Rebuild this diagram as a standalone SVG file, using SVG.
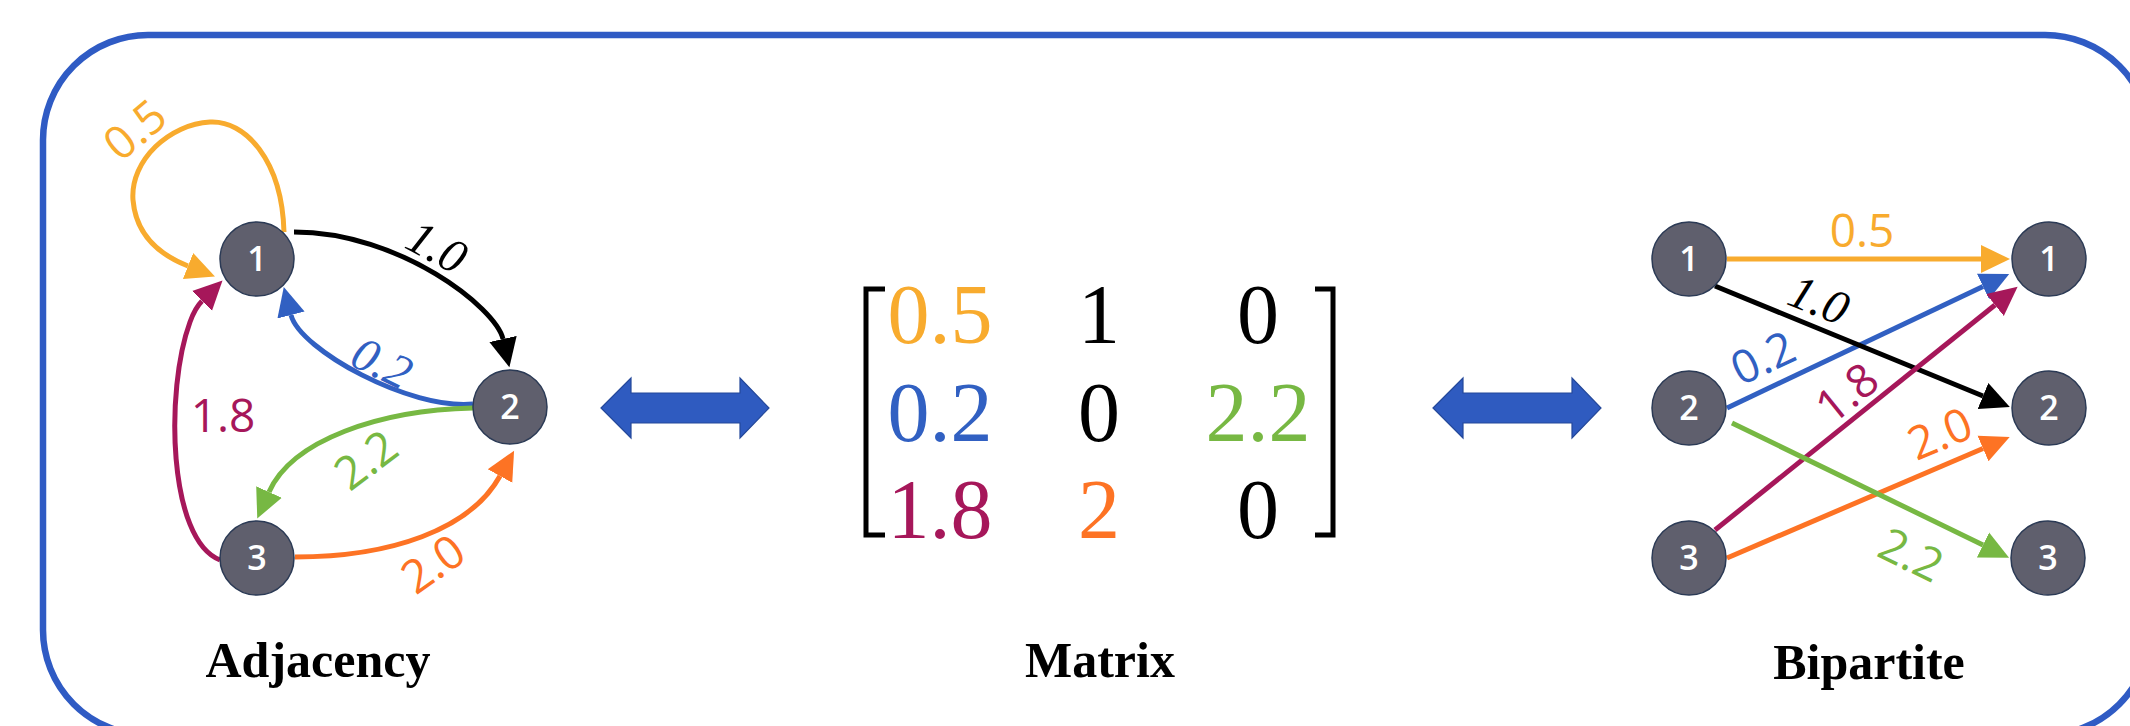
<svg xmlns="http://www.w3.org/2000/svg" width="2130" height="726" viewBox="0 0 2130 726">
<style>
.node circle{fill:#5F5F6D;stroke:#2B3A55;stroke-width:1.5}
.node text{fill:#fff;font-family:"Open Sans","DejaVu Sans",sans-serif;font-size:34px;font-weight:600;text-anchor:middle}
.e{fill:none;stroke-width:5}
.lbl{font-family:"Open Sans","DejaVu Sans",sans-serif;font-size:46px;text-anchor:middle}
.ital{font-family:"Liberation Serif","Times New Roman",serif;font-style:italic;font-size:48px;text-anchor:middle}
.mx{font-family:"Liberation Serif","Times New Roman",serif;font-size:84px;text-anchor:middle}
.title{font-family:"Liberation Serif","Times New Roman",serif;font-weight:bold;font-size:50px;text-anchor:middle;fill:#000}
.dbl{fill:#2F5BC0;stroke:#24489A;stroke-width:1.2}
.y{stroke:#F8AB2E}.k{stroke:#000}.b{stroke:#3160C2}.g{stroke:#77B843}.o{stroke:#FD7324}.c{stroke:#A6175A}
</style>
<defs>
<marker id="mY" markerUnits="userSpaceOnUse" viewBox="0 -15 30 30" markerWidth="30" markerHeight="30" refX="0" refY="0" orient="auto"><path d="M0,-14 L29,0 L0,14 Z" fill="#F8AB2E"/></marker>
<marker id="mK" markerUnits="userSpaceOnUse" viewBox="0 -15 30 30" markerWidth="30" markerHeight="30" refX="0" refY="0" orient="auto"><path d="M0,-14 L29,0 L0,14 Z" fill="#000"/></marker>
<marker id="mB" markerUnits="userSpaceOnUse" viewBox="0 -15 30 30" markerWidth="30" markerHeight="30" refX="0" refY="0" orient="auto"><path d="M0,-14 L29,0 L0,14 Z" fill="#3160C2"/></marker>
<marker id="mG" markerUnits="userSpaceOnUse" viewBox="0 -15 30 30" markerWidth="30" markerHeight="30" refX="0" refY="0" orient="auto"><path d="M0,-14 L29,0 L0,14 Z" fill="#77B843"/></marker>
<marker id="mO" markerUnits="userSpaceOnUse" viewBox="0 -15 30 30" markerWidth="30" markerHeight="30" refX="0" refY="0" orient="auto"><path d="M0,-14 L29,0 L0,14 Z" fill="#FD7324"/></marker>
<marker id="mC" markerUnits="userSpaceOnUse" viewBox="0 -15 30 30" markerWidth="30" markerHeight="30" refX="0" refY="0" orient="auto"><path d="M0,-14 L29,0 L0,14 Z" fill="#A6175A"/></marker>
</defs>
<rect x="0" y="0" width="2130" height="726" fill="#fff"/>
<rect id="frame" x="43" y="35" width="2107" height="700" rx="105" ry="105" fill="none" stroke="#2F5BC4" stroke-width="6.5"/>

<g id="connectors">
  <!-- adjacency -->
  <path class="e y" d="M284,232 C282,160 245,120 210,122 C170,124 130,160 133,200 C136,235 160,255 188,266" marker-end="url(#mY)"/>
  <path class="e k" d="M294,232 C400,232 496,308 503,339" marker-end="url(#mK)"/>
  <path class="e b" d="M473,404 C410,410 300,350 291,315" marker-end="url(#mB)"/>
  <path class="e g" d="M473,408 C380,410 292,440 269,492" marker-end="url(#mG)"/>
  <path class="e o" d="M295,557 C390,557 470,530 500,476" marker-end="url(#mO)"/>
  <path class="e c" d="M220,560 C168,540 165,390 190,322 Q195,308 202,301" marker-end="url(#mC)"/>
  <!-- bipartite -->
  <path class="e b" d="M1727,408 L1983,286.5" marker-end="url(#mB)"/>
  <path class="e y" d="M1727,259 L1981,259" marker-end="url(#mY)"/>
  <path class="e k" d="M1715,286 L1983,396" marker-end="url(#mK)"/>
  <path class="e c" d="M1715,530 L1995,305" marker-end="url(#mC)"/>
  <path class="e o" d="M1727,558 L1983,448.5" marker-end="url(#mO)"/>
  <path class="e g" d="M1732,423 L1983,545" marker-end="url(#mG)"/>
  <!-- double arrows -->
  <polygon class="dbl" points="601,408 631,378 631,393 740,393 740,378 769,408 740,438 740,423 631,423 631,438"/>
  <polygon class="dbl" points="1433,408 1463,378 1463,393 1572,393 1572,378 1601,408 1572,438 1572,423 1463,423 1463,438"/>
</g>

<g id="edge-labels">
  <text class="lbl" fill="#F8AB2E" transform="translate(135,130) rotate(-40)" y="16">0.5</text>
  <text class="ital" fill="#000" transform="translate(437,247) rotate(28)" y="16">1.0</text>
  <text class="ital" fill="#3160C2" transform="translate(382,363) rotate(26)" y="16">0.2</text>
  <text class="lbl" fill="#77B843" transform="translate(366,460) rotate(-37)" y="16">2.2</text>
  <text class="lbl" fill="#A6175A" x="223" y="432">1.8</text>
  <text class="lbl" fill="#FD7324" transform="translate(433,564) rotate(-35)" y="16">2.0</text>

  <text class="lbl" fill="#F8AB2E" x="1862" y="247">0.5</text>
  <text class="ital" fill="#000" transform="translate(1819,300) rotate(22)" y="16">1.0</text>
  <text class="lbl" fill="#3160C2" transform="translate(1763,358) rotate(-25)" y="16">0.2</text>
  <text class="lbl" fill="#A6175A" transform="translate(1847,393) rotate(-39)" y="16">1.8</text>
  <text class="lbl" fill="#FD7324" transform="translate(1940,434) rotate(-23)" y="16">2.0</text>
  <text class="lbl" fill="#77B843" transform="translate(1911,555) rotate(26)" y="16">2.2</text>
</g>

<g id="adj-n1" class="node"><circle cx="257" cy="259" r="37"/><text x="257" y="271">1</text></g>
<g id="adj-n2" class="node"><circle cx="510" cy="407" r="37"/><text x="510" y="419">2</text></g>
<g id="adj-n3" class="node"><circle cx="257" cy="558" r="37"/><text x="257" y="570">3</text></g>

<g id="bip-l1" class="node"><circle cx="1689" cy="259" r="37"/><text x="1689" y="271">1</text></g>
<g id="bip-l2" class="node"><circle cx="1689" cy="408" r="37"/><text x="1689" y="420">2</text></g>
<g id="bip-l3" class="node"><circle cx="1689" cy="558" r="37"/><text x="1689" y="570">3</text></g>
<g id="bip-r1" class="node"><circle cx="2049" cy="259" r="37"/><text x="2049" y="271">1</text></g>
<g id="bip-r2" class="node"><circle cx="2049" cy="408" r="37"/><text x="2049" y="420">2</text></g>
<g id="bip-r3" class="node"><circle cx="2048" cy="558" r="37"/><text x="2048" y="570">3</text></g>

<g id="matrix">
  <path d="M885,289 H866 V535 H885" fill="none" stroke="#000" stroke-width="5"/>
  <path d="M1315,289 H1333 V535 H1315" fill="none" stroke="#000" stroke-width="5"/>
  <text class="mx" fill="#F8AB2E" x="940" y="343">0.5</text>
  <text class="mx" fill="#000" x="1099" y="343">1</text>
  <text class="mx" fill="#000" x="1258" y="343">0</text>
  <text class="mx" fill="#3160C2" x="940" y="441">0.2</text>
  <text class="mx" fill="#000" x="1099" y="441">0</text>
  <text class="mx" fill="#77B843" x="1258" y="441">2.2</text>
  <text class="mx" fill="#A6175A" x="940" y="538">1.8</text>
  <text class="mx" fill="#FD7324" x="1099" y="538">2</text>
  <text class="mx" fill="#000" x="1258" y="538">0</text>
</g>

<g id="titles">
  <text class="title" x="318" y="677">Adjacency</text>
  <text class="title" x="1100" y="677">Matrix</text>
  <text class="title" x="1869" y="679">Bipartite</text>
</g>
</svg>
